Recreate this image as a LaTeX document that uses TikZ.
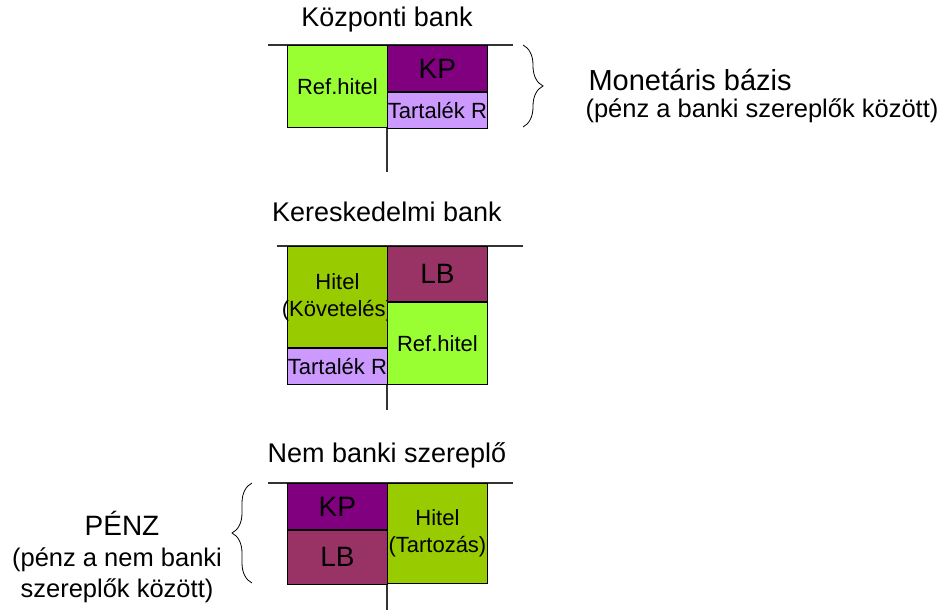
\documentclass[tikz,border=0pt]{standalone}
\usepackage{fontspec}
\setmainfont{Liberation Sans}
\usepackage{tikz}
\usetikzlibrary{positioning,decorations.pathreplacing}
\definecolor{refgreen}{RGB}{153,255,51}
\definecolor{hitelgreen}{RGB}{153,204,0}
\definecolor{kppurple}{RGB}{128,0,128}
\definecolor{tartlilac}{RGB}{204,153,255}
\definecolor{lbplum}{RGB}{153,51,102}
\tikzset{
  acct/.style={draw=black,line width=.8pt,inner sep=0pt,align=center,
    minimum width=100pt,font=\fontsize{22}{27}\selectfont},
  bigtxt/.style={font=\fontsize{28}{32}\selectfont},
  headlbl/.style={font=\fontsize{27}{32}\selectfont},
  tline/.style={line width=1.1pt,black!80},
  bracepath/.style={decorate,decoration={brace,amplitude=20pt},line width=.8pt},
}
\tikzstyle{sidelbl}=[font=\fontsize{25.5}{31}\selectfont]

\begin{document}
\begin{tikzpicture}[x=1pt,y=-1pt]
  \useasboundingbox (0,0) rectangle (944,610);
  % Kozponti bank
  \node[headlbl] (cbtitle) at (387,20) {Központi bank};
  \draw[tline] (268,45) -- (513,45);
  \draw[tline] (387,45) -- (387,172);
  \node[acct,fill=refgreen,minimum height=82pt,anchor=north west] (cbref) at (287,45) {Ref.hitel};
  \node[acct,bigtxt,fill=kppurple,minimum height=46pt,anchor=north west] (cbkp) at (387,45) {KP};
  \node[acct,fill=tartlilac,minimum height=36pt,below=0pt of cbkp] (cbtart) {Tartalék R};
  \draw[bracepath] (523,45) -- (523,127);
  \node[font=\fontsize{29}{33}\selectfont,anchor=west] (mbazis) at (585,80) {Monetáris bázis};
  \node[sidelbl,anchor=west] (mbsub) at (582,111) {(pénz a banki szereplők között)};
  % Kereskedelmi bank
  \node[headlbl] (kbtitle) at (387,212) {Kereskedelmi bank};
  \draw[tline] (277,246) -- (523,246);
  \draw[tline] (387,246) -- (387,410);
  \node[acct,fill=hitelgreen,minimum height=101pt,anchor=north west] (kbhitel) at (287,246) {Hitel\\\makebox[0pt]{(Követelés)}};
  \node[acct,fill=tartlilac,minimum height=36pt,below=0pt of kbhitel] (kbtart) {Tartalék R};
  \node[acct,bigtxt,fill=lbplum,minimum height=55pt,anchor=north west] (kblb) at (387,246) {LB};
  \node[acct,fill=refgreen,minimum height=82pt,below=0pt of kblb] (kbref) {Ref.hitel};
  % Nem banki szereplo
  \node[headlbl] (nbtitle) at (387,455) {Nem banki szereplő};
  \draw[tline] (268,483) -- (513,483);
  \draw[tline] (387,483) -- (387,610);
  \node[acct,bigtxt,fill=kppurple,minimum height=46pt,anchor=north west] (nbkp) at (287,483) {KP};
  \node[acct,bigtxt,fill=lbplum,minimum height=54pt,below=0pt of nbkp] (nblb) {LB};
  \node[acct,fill=hitelgreen,minimum height=100pt,anchor=north west] (nbhitel) at (387,483) {Hitel\\(Tartozás)};
  \draw[bracepath] (252,583) -- (252,483);
  \node[font=\fontsize{28}{32}\selectfont] (penz) at (122,523) {PÉNZ};
  \node[sidelbl,align=center] (penzsub) at (117,575) {(pénz a nem banki\\szereplők között)};
\end{tikzpicture}
\end{document}
